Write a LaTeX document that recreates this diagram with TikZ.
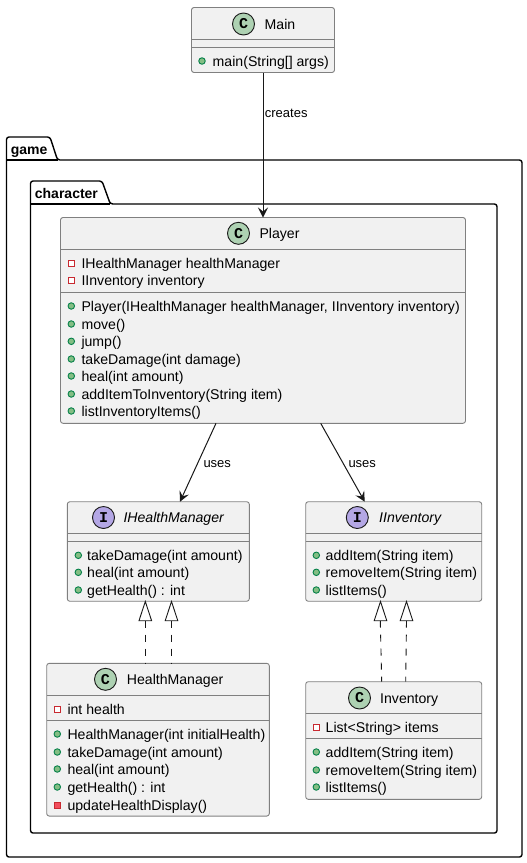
\documentclass[tikz,border=0pt]{standalone}
\usepackage{fontspec}
\setmainfont{Liberation Sans}
\newfontfamily\iconfont{Liberation Mono}
\usetikzlibrary{arrows.meta}
\definecolor{boxfill}{HTML}{F1F1F1}
\definecolor{boxline}{HTML}{808080}
\definecolor{ink}{HTML}{181818}
\definecolor{ccircle}{HTML}{ADD1B2}
\definecolor{icircle}{HTML}{B4A7E5}
\definecolor{pubfill}{HTML}{84BE84}
\definecolor{publine}{HTML}{038048}
\definecolor{privline}{HTML}{C82930}
\definecolor{privfill}{HTML}{F24D5C}
\newcount\memberno
\tikzset{
  classbox/.style={draw=boxline,fill=boxfill,line width=.9pt,rounded corners=2.5pt,inner sep=0pt,outer sep=0pt},
  sepline/.style={draw=boxline,line width=.9pt},
  pkg/.style={draw=black,line width=1.4pt,rounded corners=2.5pt,line join=round},
  pkgtext/.style={anchor=base west,inner sep=0pt,font=\fontsize{14}{14}\selectfont\bfseries},
  title/.style={anchor=base west,inner sep=0pt,text=black,font=\fontsize{14.1}{14}\selectfont},
  ititle/.style={title,font=\fontsize{14.1}{14}\selectfont\itshape},
  member/.style={anchor=base west,inner sep=0pt,text=black,font=\fontsize{14.12}{14}\selectfont},
  linklabel/.style={anchor=base west,inner sep=0pt,text=black,font=\fontsize{13}{13}\selectfont},
  badge/.style={circle,draw=ink,line width=.9pt,minimum size=22pt,inner sep=0pt,text=black,font=\fontsize{15}{15}\selectfont\iconfont\bfseries},
  pubdot/.style={circle,draw=publine,fill=pubfill,line width=.9pt,minimum size=6.5pt,inner sep=0pt},
  privbox/.style={rectangle,draw=privline,fill=white,line width=.9pt,minimum size=6pt,inner sep=0pt},
  privmeth/.style={rectangle,draw=privline,fill=privfill,line width=.9pt,minimum size=6pt,inner sep=0pt},
  uses/.style={draw=ink,line width=1pt,-{Stealth[length=10pt,width=10pt,inset=4pt,fill=ink]}},
  realize/.style={draw=ink,line width=.9pt,dash pattern=on 7pt off 7pt},
  hollow/.style={draw=ink,fill=white,line width=.9pt,line join=miter},
}
% \mem{icon style}{icon x}{text x}{y centre}{text}
\newcommand{\mem}[5]{%
  \global\advance\memberno by 1
  \node[#1] (ic\the\memberno) at (#2,#4) {};
  \node[member] (tx\the\memberno) at (#3,#4+5) {#5};
}
\begin{document}
\begin{tikzpicture}[x=1pt,y=-1pt]
\useasboundingbox (0,0) rectangle (527,863);
% packages
\draw[pkg] (6.5,160) -- (6.5,137) -- (50,137) -- (57.5,160) -- (522,160) -- (522,857) -- (6.5,857) -- cycle;
\draw[pkg,rounded corners=0pt] (6.5,160) -- (57.5,160);
\node[pkgtext] (pgame) at (10.7,154) {game};
\draw[pkg] (30.5,204) -- (30.5,181) -- (102,181) -- (110.3,204) -- (497,204) -- (497,833) -- (30.5,833) -- cycle;
\draw[pkg,rounded corners=0pt] (30.5,204) -- (110.3,204);
\node[pkgtext] (pchar) at (34.7,198) {character};

% Main
\node[classbox,minimum width=143pt,minimum height=65pt] (main) at (263,40) {};
\draw[sepline] (main.west |- 0,39.5) -- (main.east |- 0,39.5);
\draw[sepline] (main.west |- 0,47.5) -- (main.east |- 0,47.5);
\node[badge,fill=ccircle] (bmain) at (243.5,24) {C};
\node[title] (tmain) at (264.5,29) {Main};
\mem{pubdot}{202}{212.5}{61}{main(String[] args)}

% Player
\node[classbox,minimum width=405pt,minimum height=205.8pt] (player) at (263,320.4) {};
\draw[sepline] (player.west |- 0,249.3) -- (player.east |- 0,249.3);
\draw[sepline] (player.west |- 0,292.3) -- (player.east |- 0,292.3);
\node[badge,fill=ccircle] (bplayer) at (238.5,233.3) {C};
\node[title] (tplayer) at (259.3,238.3) {Player};
\mem{privbox}{71.3}{81.3}{263.3}{IHealthManager healthManager}
\mem{privbox}{71.3}{81.3}{280.3}{IInventory inventory}
\mem{pubdot}{71.3}{81.3}{306}{Player(IHealthManager healthManager, IInventory inventory)}
\mem{pubdot}{71.3}{81.3}{324}{move()}
\mem{pubdot}{71.3}{81.3}{341.3}{jump()}
\mem{pubdot}{71.3}{81.3}{359}{takeDamage(int damage)}
\mem{pubdot}{71.3}{81.3}{376}{heal(int amount)}
\mem{pubdot}{71.3}{81.3}{394}{addItemToInventory(String item)}
\mem{pubdot}{71.3}{81.3}{411}{listInventoryItems()}

% IHealthManager
\node[classbox,minimum width=182pt,minimum height=99.5pt] (ihm) at (158.3,551.5) {};
\draw[sepline] (ihm.west |- 0,533.3) -- (ihm.east |- 0,533.3);
\draw[sepline] (ihm.west |- 0,541.3) -- (ihm.east |- 0,541.3);
\node[badge,fill=icircle] (bihm) at (103.5,517.5) {I};
\node[ititle] (tihm) at (123.3,522.5) {IHealthManager};
\mem{pubdot}{78.3}{87}{555.3}{takeDamage(int amount)}
\mem{pubdot}{78.3}{87}{572.3}{heal(int amount)}
\mem{pubdot}{78.3}{87}{590}{getHealth() : int}

% IInventory
\node[classbox,minimum width=176pt,minimum height=99.5pt] (iinv) at (393.7,551.5) {};
\draw[sepline] (iinv.west |- 0,533.3) -- (iinv.east |- 0,533.3);
\draw[sepline] (iinv.west |- 0,541.3) -- (iinv.east |- 0,541.3);
\node[badge,fill=icircle] (biinv) at (357.3,517.5) {I};
\node[ititle] (tiinv) at (379,522.5) {IInventory};
\mem{pubdot}{316.3}{325.5}{555.3}{addItem(String item)}
\mem{pubdot}{316.3}{325.5}{572.3}{removeItem(String item)}
\mem{pubdot}{316.3}{325.5}{590}{listItems()}

% HealthManager
\node[classbox,minimum width=222.6pt,minimum height=152.7pt] (hm) at (158,739.7) {};
\draw[sepline] (hm.west |- 0,695.3) -- (hm.east |- 0,695.3);
\draw[sepline] (hm.west |- 0,720.7) -- (hm.east |- 0,720.7);
\node[badge,fill=ccircle] (bhm) at (105.5,679.3) {C};
\node[title] (thm) at (126.7,684.3) {HealthManager};
\mem{privbox}{57.3}{67.3}{709.3}{int health}
\mem{pubdot}{57.3}{67.3}{734}{HealthManager(int initialHealth)}
\mem{pubdot}{57.3}{67.3}{752}{takeDamage(int amount)}
\mem{pubdot}{57.3}{67.3}{769}{heal(int amount)}
\mem{pubdot}{57.3}{67.3}{787}{getHealth() : int}
\mem{privmeth}{57.3}{67.3}{805}{updateHealthDisplay()}

% Inventory
\node[classbox,minimum width=176pt,minimum height=117.6pt] (inv) at (393.7,740.5) {};
\draw[sepline] (inv.west |- 0,713.3) -- (inv.east |- 0,713.3);
\draw[sepline] (inv.west |- 0,738.3) -- (inv.east |- 0,738.3);
\node[badge,fill=ccircle] (binv) at (359.5,698) {C};
\node[title] (tinv) at (380,703) {Inventory};
\mem{privbox}{316.3}{325.5}{727}{List<String> items}
\mem{pubdot}{316.3}{325.5}{752}{addItem(String item)}
\mem{pubdot}{316.3}{325.5}{770}{removeItem(String item)}
\mem{pubdot}{316.3}{325.5}{787}{listItems()}

% connectors
\draw[uses] (main.south) -- (player.north);
\node[linklabel] (lcreates) at (264.7,117) {creates};
\coordinate (pa) at (216,423.3);
\coordinate (pb) at (180,501.7);
\coordinate (pc) at (320.7,423.3);
\coordinate (pd) at (364.7,501.7);
\draw[uses] (pa) -- (pb);
\draw[uses] (pc) -- (pd);
\node[linklabel] (luses1) at (203.3,467) {uses};
\node[linklabel] (luses2) at (348.3,467) {uses};

% realisations
\coordinate (ha) at (145.3,620.7); \coordinate (hb) at (145.3,663.3);
\coordinate (hc) at (171.7,620.7); \coordinate (hd) at (171.7,663.3);
\coordinate (ia) at (380.3,620.7); \coordinate (ib) at (381.7,681.7);
\coordinate (ic) at (406.5,620.7); \coordinate (id) at (405.7,681.7);
\draw[realize] (ha) -- (hb);
\draw[realize] (hc) -- (hd);
\draw[realize] (ia) -- (ib);
\draw[realize] (ic) -- (id);
\draw[hollow] (145.3,601.5) -- (151.6,620.7) -- (139,620.7) -- cycle;
\draw[hollow] (171.5,601.5) -- (177.8,620.7) -- (165.2,620.7) -- cycle;
\draw[hollow] (380.5,601.5) -- (386.8,620.7) -- (374.2,620.7) -- cycle;
\draw[hollow] (406.5,601.5) -- (412.8,620.7) -- (400.2,620.7) -- cycle;
\end{tikzpicture}
\end{document}
